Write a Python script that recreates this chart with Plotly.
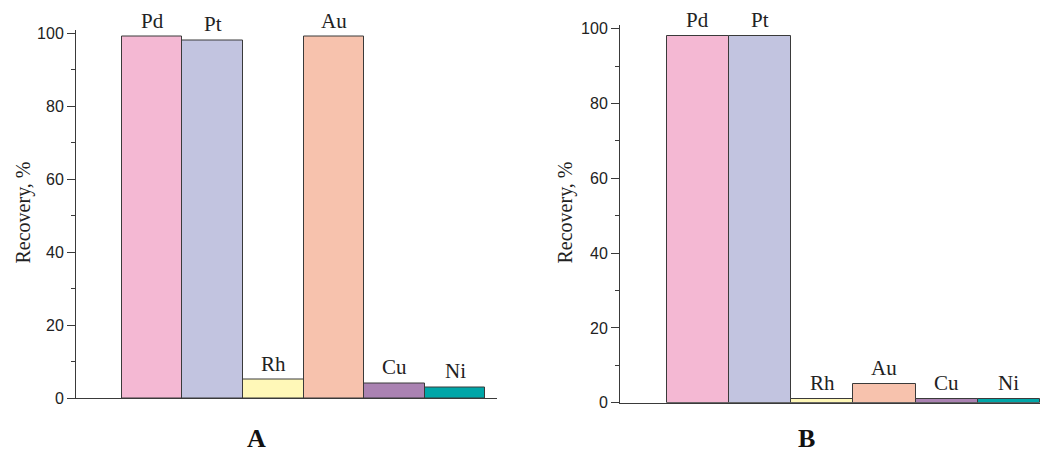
import plotly.graph_objects as go

# Recovery of metals for two separation conditions
metals = ["Pd", "Pt", "Rh", "Au", "Cu", "Ni"]
recovery_a = [99, 98, 5, 99, 4, 3]
recovery_b = [98, 98, 1, 5, 1, 1]
bar_colors = ["#F4B8D3", "#C2C4E0", "#FFF8B8", "#F7C2AD", "#AA82B2", "#00A6A8"]
y_ticks = [0, 20, 40, 60, 80, 100]
panel_letters = ["A", "B"]

W, H = 1040, 454
SERIF = "Liberation Serif, Times New Roman, serif"
SANS = "Liberation Sans, Arial, sans-serif"
LINE = "#3a3a3a"

fig = go.Figure()

panels = [
    dict(vals=recovery_a, xa="x", ya="y", xdom=[76 / W, 497 / W],
         ydom=[1 - 398 / H, 1 - 29.5 / H], xr=[-1.254, 5.69],
         title_x=23, letter_x=256),
    dict(vals=recovery_b, xa="x2", ya="y2", xdom=[620 / W, 1.0],
         ydom=[1 - 402.7 / H, 1 - 25 / H], xr=[-1.25, 5.5],
         title_x=565, letter_x=806),
]

annotations = []
for i, p in enumerate(panels):
    fig.add_trace(go.Bar(
        x=metals, y=p["vals"], xaxis=p["xa"], yaxis=p["ya"],
        marker=dict(color=bar_colors, line=dict(color=LINE, width=1)),
        width=1.0, showlegend=False, hoverinfo="x+y",
    ))
    # metal names above their bars
    for m, v in zip(metals, p["vals"]):
        annotations.append(dict(
            x=m, y=v, xref=p["xa"], yref=p["ya"], text=m, showarrow=False,
            yanchor="bottom", yshift=2,
            font=dict(family=SERIF, size=21, color="#222222"),
        ))
    # rotated axis title
    annotations.append(dict(
        x=p["title_x"] / W, y=1 - 212.5 / H, xref="paper", yref="paper",
        text="Recovery, %", textangle=-90, showarrow=False,
        xanchor="center", yanchor="middle",
        font=dict(family=SERIF, size=20, color="#222222"),
    ))
    # panel letter, sitting on the bottom edge
    annotations.append(dict(
        x=p["letter_x"] / W, y=0, xref="paper", yref="paper",
        text="<b>%s</b>" % panel_letters[i], showarrow=False,
        xanchor="center", yanchor="bottom", borderpad=0,
        font=dict(family=SERIF, size=26, color="#111111"),
    ))

xaxis_common = dict(
    type="category", showline=True, linecolor=LINE, linewidth=1,
    showticklabels=False, ticks="", showgrid=False, zeroline=False,
    fixedrange=True, automargin=False,
)
yaxis_common = dict(
    range=[0, 101], tickvals=y_ticks, ticks="outside", ticklen=8,
    tickwidth=1, tickcolor=LINE, showline=True, linecolor=LINE, linewidth=1,
    showgrid=False, zeroline=False, automargin=False,
    tickfont=dict(family=SANS, size=16, color="#222222"),
    minor=dict(dtick=10, tick0=0, ticks="outside", ticklen=4,
               tickcolor=LINE, tickwidth=1, showgrid=False),
)

fig.update_layout(
    width=W, height=H,
    margin=dict(l=0, r=0, t=0, b=0, pad=0),
    paper_bgcolor="white", plot_bgcolor="white",
    bargap=0,
    xaxis=dict(domain=panels[0]["xdom"], range=panels[0]["xr"], anchor="y", **xaxis_common),
    yaxis=dict(domain=panels[0]["ydom"], anchor="x", **yaxis_common),
    xaxis2=dict(domain=panels[1]["xdom"], range=panels[1]["xr"], anchor="y2", **xaxis_common),
    yaxis2=dict(domain=panels[1]["ydom"], anchor="x2", **yaxis_common),
    annotations=annotations,
)

fig.write_html("out.html")
